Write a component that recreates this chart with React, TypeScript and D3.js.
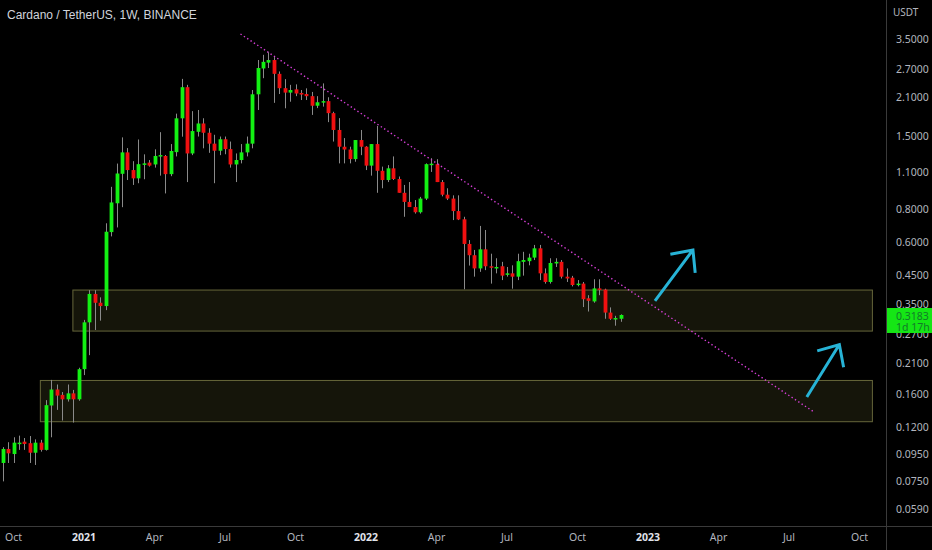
import { useEffect, useRef } from "react";
import * as d3 from "d3";

// weekly candles, first bar week of 2020-09-21
const firstWeek = "2020-09-21";
const opens = [
  0.088, 0.0994, 0.0951, 0.1043, 0.1059, 0.1045, 0.0962, 0.105, 0.0986, 0.145,
  0.1666, 0.159, 0.153, 0.1611, 0.153, 0.1988, 0.2986, 0.3822, 0.354, 0.344,
  0.654, 0.84, 1.085, 1.307, 1.121, 1.043, 1.184, 1.196, 1.177, 1.267,
  1.267, 1.082, 1.31, 1.757, 2.303, 1.295, 1.563, 1.68, 1.55, 1.41,
  1.326, 1.465, 1.345, 1.177, 1.223, 1.307, 1.41, 2.165, 2.71, 2.85,
  2.916, 2.586, 2.283, 2.197, 2.26, 2.19, 2.17, 2.13, 1.96, 2.03,
  2.04, 1.838, 1.588, 1.373, 1.34, 1.233, 1.455, 1.373, 1.165, 1.405,
  1.114, 1.028, 1.138, 1.037, 0.92, 0.85, 0.813, 0.777, 0.875, 1.18,
  1.18, 1.01, 0.905, 0.875, 0.785, 0.731, 0.59, 0.535, 0.477, 0.563,
  0.486, 0.48, 0.486, 0.452, 0.457, 0.444, 0.505, 0.508, 0.524, 0.568,
  0.457, 0.424, 0.498, 0.505, 0.444, 0.44, 0.413, 0.418, 0.368, 0.358,
  0.401, 0.397, 0.325, 0.308, 0.308,
];
const highs = [
  0.101, 0.1054, 0.11, 0.1116, 0.1093, 0.1112, 0.108, 0.1076, 0.1519, 0.1811,
  0.174, 0.163, 0.174, 0.166, 0.2013, 0.305, 0.395, 0.395, 0.371, 0.706,
  0.969, 1.186, 1.489, 1.357, 1.211, 1.462, 1.285, 1.223, 1.342, 1.558,
  1.278, 1.405, 1.83, 2.475, 2.35, 1.87, 1.889, 1.758, 1.612, 1.523,
  1.5, 1.5, 1.436, 1.295, 1.405, 1.5, 2.247, 2.916, 3.05, 3.12,
  2.99, 2.64, 2.47, 2.35, 2.36, 2.247, 2.28, 2.21, 2.13, 2.38,
  2.11, 1.86, 1.76, 1.48, 1.373, 1.455, 1.588, 1.38, 1.405, 1.645,
  1.155, 1.17, 1.262, 1.06, 0.985, 1.01, 0.864, 0.888, 1.188, 1.243,
  1.232, 1.028, 0.957, 0.9, 0.9, 0.747, 0.61, 0.56, 0.69, 0.666,
  0.542, 0.521, 0.505, 0.483, 0.49, 0.542, 0.551, 0.542, 0.585, 0.585,
  0.477, 0.521, 0.521, 0.513, 0.477, 0.447, 0.431, 0.424, 0.378, 0.434,
  0.434, 0.4, 0.34, 0.316, 0.32,
];
const lows = [
  0.075, 0.088, 0.088, 0.0986, 0.0986, 0.088, 0.0865, 0.0971, 0.098, 0.11,
  0.1396, 0.1272, 0.15, 0.125, 0.151, 0.1888, 0.2245, 0.2794, 0.303, 0.332,
  0.63, 0.681, 0.812, 1.028, 0.985, 1.0, 1.035, 1.155, 1.145, 1.068,
  0.915, 1.063, 1.262, 1.498, 1.01, 1.276, 1.5, 1.354, 1.302, 1.0,
  1.276, 1.286, 1.145, 1.01, 1.188, 1.262, 1.354, 1.889, 2.49, 2.72,
  2.01, 2.17, 1.917, 2.03, 2.13, 2.06, 2.06, 1.81, 1.92, 1.945,
  1.7, 1.436, 1.188, 1.188, 1.188, 1.205, 1.276, 1.121, 1.068, 0.92,
  0.957, 1.01, 1.028, 0.92, 0.747, 0.813, 0.768, 0.768, 0.864, 1.103,
  1.01, 0.892, 0.864, 0.726, 0.726, 0.398, 0.489, 0.444, 0.463, 0.47,
  0.418, 0.457, 0.431, 0.444, 0.4, 0.431, 0.448, 0.49, 0.513, 0.431,
  0.418, 0.418, 0.483, 0.437, 0.424, 0.408, 0.408, 0.341, 0.328, 0.354,
  0.378, 0.308, 0.305, 0.29, 0.3,
];
const closes = [
  0.0994, 0.0957, 0.105, 0.105, 0.1038, 0.0962, 0.105, 0.0986, 0.1454, 0.1666,
  0.158, 0.153, 0.1611, 0.153, 0.1988, 0.2986, 0.3822, 0.3539, 0.344, 0.656,
  0.846, 1.088, 1.307, 1.121, 1.043, 1.18, 1.188, 1.165, 1.267, 1.277,
  1.082, 1.323, 1.757, 2.303, 1.295, 1.573, 1.68, 1.55, 1.41, 1.326,
  1.465, 1.345, 1.177, 1.223, 1.307, 1.41, 2.165, 2.72, 2.87, 2.916,
  2.586, 2.283, 2.197, 2.247, 2.18, 2.16, 2.13, 1.96, 2.02, 2.04,
  1.838, 1.588, 1.373, 1.34, 1.233, 1.455, 1.373, 1.165, 1.405, 1.114,
  1.028, 1.138, 1.037, 0.92, 0.85, 0.813, 0.777, 0.875, 1.18, 1.185,
  1.01, 0.905, 0.875, 0.785, 0.73, 0.59, 0.535, 0.477, 0.563, 0.486,
  0.48, 0.483, 0.448, 0.457, 0.444, 0.508, 0.513, 0.524, 0.568, 0.457,
  0.424, 0.5, 0.505, 0.444, 0.437, 0.413, 0.418, 0.365, 0.36, 0.401,
  0.397, 0.325, 0.308, 0.31, 0.3183,
];

const lastPrice = "0.3183";
const countdown = "1d 17h";

const yTicks = [3.5, 2.7, 2.1, 1.5, 1.1, 0.8, 0.6, 0.45, 0.35, 0.27, 0.21, 0.16, 0.12, 0.095, 0.075, 0.059];
const xTickDates = [
  "2020-10-05", "2021-01-04", "2021-04-05", "2021-07-05", "2021-10-04", "2022-01-03", "2022-04-04",
  "2022-07-04", "2022-10-03", "2023-01-02", "2023-04-03", "2023-07-03", "2023-10-02",
];
const xTickLabels = ["Oct", "2021", "Apr", "Jul", "Oct", "2022", "Apr", "Jul", "Oct", "2023", "Apr", "Jul", "Oct"];

// support zones: [start, end, top price, bottom price]
const zones: [string, string, number, number][] = [
  ["2020-12-20", "2023-10-18", 0.397, 0.278],
  ["2020-11-08", "2023-10-18", 0.181, 0.1265],
];
// dotted resistance line
const trendline: [string, number][] = [
  ["2021-07-25", 3.655],
  ["2023-08-05", 0.1366],
];
// arrows: tail -> tip
const arrows: [string, number, string, number][] = [
  ["2023-01-11", 0.36, "2023-03-01", 0.56],
  ["2023-07-26", 0.156, "2023-09-06", 0.2462],
];

const W = 932;
const H = 550;
const axisX = 886;
const axisY = 526;
const font = "'Noto Sans', 'Open Sans', sans-serif";

export default function App() {
  const svgRef = useRef<SVGSVGElement>(null);

  useEffect(() => {
    if (!svgRef.current) return;
    const parse = d3.utcParse("%Y-%m-%d");
    const svg = d3.select(svgRef.current);
    svg.selectAll("*").remove();

    const x = d3.scaleUtc()
      .domain([parse("2021-01-04")!, parse("2023-01-02")!])
      .range([84, 648]);
    const y = d3.scaleLog().domain([0.059, 3.5]).range([509, 39]);

    const start = parse(firstWeek)!;
    const candles = opens.map((o, i) => ({
      date: d3.utcDay.offset(start, i * 7),
      o, h: highs[i], l: lows[i], c: closes[i],
    }));

    svg.append("rect").attr("width", W).attr("height", H).attr("fill", "#000000");

    const plot = svg.append("g");
    plot.append("clipPath").attr("id", "plot-clip")
      .append("rect").attr("width", axisX).attr("height", axisY);
    const g = plot.append("g").attr("clip-path", "url(#plot-clip)");

    // Zones
    g.selectAll(".zone")
      .data(zones).enter().append("rect")
      .attr("x", d => x(parse(d[0])!) + 0.5)
      .attr("y", d => y(d[2]) + 0.5)
      .attr("width", d => x(parse(d[1])!) - x(parse(d[0])!))
      .attr("height", d => y(d[3]) - y(d[2]))
      .attr("fill", "#15150a").attr("stroke", "#66663a").attr("stroke-width", 1);

    // Wicks
    g.selectAll(".wick")
      .data(candles).enter().append("line")
      .attr("x1", d => Math.round(x(d.date)) + 0.5).attr("x2", d => Math.round(x(d.date)) + 0.5)
      .attr("y1", d => y(d.h)).attr("y2", d => y(d.l))
      .attr("stroke", "#8a8a8a").attr("stroke-width", 1);

    // Bodies
    g.selectAll(".body")
      .data(candles).enter().append("rect")
      .attr("x", d => Math.round(x(d.date)) + 0.5 - 1.9)
      .attr("y", d => y(Math.max(d.o, d.c)))
      .attr("width", 3.8)
      .attr("height", d => Math.max(1.5, Math.abs(y(d.o) - y(d.c))))
      .attr("fill", d => (d.c >= d.o ? "#13f013" : "#f01010"));

    // Trendline
    g.append("line")
      .attr("x1", x(parse(trendline[0][0])!)).attr("y1", y(trendline[0][1]))
      .attr("x2", x(parse(trendline[1][0])!)).attr("y2", y(trendline[1][1]))
      .attr("stroke", "#d63fd6").attr("stroke-width", 1.4).attr("stroke-dasharray", "1.4,2.6");

    // Arrows
    arrows.forEach(([d0, p0, d1, p1]) => {
      const x0 = x(parse(d0)!), y0 = y(p0), x1 = x(parse(d1)!), y1 = y(p1);
      const ang = Math.atan2(y0 - y1, x0 - x1);
      const len = 23, spread = 0.74;
      const path = d3.path();
      path.moveTo(x0, y0);
      path.lineTo(x1, y1);
      path.moveTo(x1 + len * Math.cos(ang - spread), y1 + len * Math.sin(ang - spread));
      path.lineTo(x1, y1);
      path.lineTo(x1 + len * Math.cos(ang + spread), y1 + len * Math.sin(ang + spread));
      g.append("path").attr("d", path.toString())
        .attr("fill", "none").attr("stroke", "#27b3d6").attr("stroke-width", 3)
        .attr("stroke-linecap", "butt").attr("stroke-linejoin", "miter");
    });

    // Axis separators
    svg.append("line").attr("x1", axisX + 0.5).attr("x2", axisX + 0.5).attr("y1", 0).attr("y2", H)
      .attr("stroke", "#3a3a3a");
    svg.append("line").attr("x1", 0).attr("x2", W).attr("y1", axisY + 0.5).attr("y2", axisY + 0.5)
      .attr("stroke", "#3a3a3a");

    // Price axis
    svg.append("text").attr("x", 893).attr("y", 12).attr("dy", "0.35em")
      .attr("fill", "#b2b5be").attr("font-size", "10px").attr("font-family", font).text("USDT");
    svg.selectAll(".ytick")
      .data(yTicks).enter().append("text")
      .attr("x", 896).attr("y", d => y(d)).attr("dy", "0.35em")
      .attr("fill", "#b2b5be").attr("font-size", "10.5px").attr("font-family", font)
      .text(d => d.toFixed(4));

    // Last price label (covers the neighbouring ticks, as on the chart)
    const ly = y(+lastPrice);
    svg.append("rect").attr("x", axisX + 1).attr("y", ly - 7).attr("width", W - axisX - 1).attr("height", 25)
      .attr("fill", "#15e615");
    svg.append("text").attr("x", 896).attr("y", ly + 1).attr("dy", "0.35em")
      .attr("fill", "#137a2a").attr("font-size", "10.5px").attr("font-family", font).text(lastPrice);
    svg.append("text").attr("x", 896).attr("y", ly + 12).attr("dy", "0.35em")
      .attr("fill", "#137a2a").attr("font-size", "10.5px").attr("font-family", font).text(countdown);

    // Time axis
    svg.selectAll(".xtick")
      .data(xTickDates).enter().append("text")
      .attr("x", d => x(parse(d)!)).attr("y", 537).attr("dy", "0.35em")
      .attr("text-anchor", "middle")
      .attr("fill", (_d, i) => (/^\d{4}$/.test(xTickLabels[i]) ? "#e0e3eb" : "#b2b5be"))
      .attr("font-weight", (_d, i) => (/^\d{4}$/.test(xTickLabels[i]) ? "700" : "400"))
      .attr("font-size", "10.5px").attr("font-family", font)
      .text((_d, i) => xTickLabels[i]);

    // Title
    svg.append("text").attr("x", 7).attr("y", 15).attr("dy", "0.35em")
      .attr("fill", "#d1d4dc").attr("font-size", "12px").attr("font-family", "'Liberation Sans', Arial, sans-serif")
      .text("Cardano / TetherUS, 1W, BINANCE");
  }, []);

  return (
    <svg ref={svgRef} width={W} height={H}
      style={{ position: "fixed", left: 0, top: 0, display: "block" }} />
  );
}
